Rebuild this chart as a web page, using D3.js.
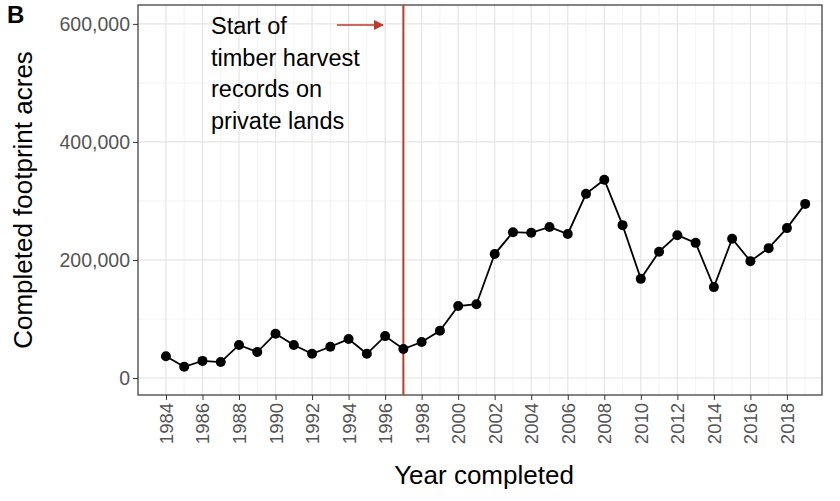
<!DOCTYPE html>
<html><head><meta charset="utf-8">
<script src="https://cdn.jsdelivr.net/npm/d3@7"></script>
<style>body{margin:0;background:#fff}</style></head>
<body><svg id="c" width="840" height="501"></svg>
<script>
const years = d3.range(1984, 2020);
const acres = [37000,19000,29000,27000,56000,44000,75000,56000,41000,53000,66000,41000,71000,49000,61000,80000,122000,125000,210000,247000,246000,256000,244000,312000,336000,259000,168000,214000,242000,229000,154000,236000,198000,220000,254000,295000];
const yTicks = [0,200000,400000,600000];
const xTicks = d3.range(1984, 2020, 2);
const noteLines = ["Start of","timber harvest","records on","private lands"];
const markerYear = 1997;

const svg = d3.select("#c");
const L=138,R=822,T=5,B=395;
const x = d3.scaleLinear().domain([1982.47,2019.92]).range([L,R]);
const y = d3.scaleLinear().domain([-28800,632000]).range([B,T]);
const font="Liberation Sans, Arial, sans-serif";

const g = svg.append("g");
d3.range(1985,2020,2).forEach(v=>g.append("line").attr("x1",x(v)).attr("x2",x(v)).attr("y1",T).attr("y2",B).attr("stroke","#f0f0f0").attr("stroke-width",0.8));
[100000,300000,500000].forEach(v=>g.append("line").attr("x1",L).attr("x2",R).attr("y1",y(v)).attr("y2",y(v)).attr("stroke","#f0f0f0").attr("stroke-width",0.8));
xTicks.forEach(v=>g.append("line").attr("x1",x(v)).attr("x2",x(v)).attr("y1",T).attr("y2",B).attr("stroke","#e4e4e4").attr("stroke-width",1.2));
yTicks.forEach(v=>g.append("line").attr("x1",L).attr("x2",R).attr("y1",y(v)).attr("y2",y(v)).attr("stroke","#e4e4e4").attr("stroke-width",1.2));

const xa = svg.append("g").attr("transform",`translate(0,${B})`).call(d3.axisBottom(x).tickValues(xTicks).tickFormat(d3.format("d")).tickSizeOuter(0).tickSize(5));
xa.select(".domain").remove();
xa.selectAll("line").attr("stroke","#333");
xa.selectAll("text").attr("font-family",font).attr("font-size",18.5).attr("fill","#555")
  .attr("transform","rotate(-90)").attr("text-anchor","end").attr("x",-8).attr("y",0).attr("dy","0.35em");
const ya = svg.append("g").attr("transform",`translate(${L},0)`).call(d3.axisLeft(y).tickValues(yTicks).tickFormat(d3.format(",")).tickSizeOuter(0).tickSize(5));
ya.select(".domain").remove();
ya.selectAll("line").attr("stroke","#333");
ya.selectAll("text").attr("font-family",font).attr("font-size",19.5).attr("fill","#555");

svg.append("rect").attr("x",L).attr("y",T).attr("width",R-L).attr("height",B-T).attr("fill","none").attr("stroke","#333").attr("stroke-width",1.2);

svg.append("line").attr("x1",x(markerYear)).attr("x2",x(markerYear)).attr("y1",T).attr("y2",B).attr("stroke","#c0392b").attr("stroke-width",2);

svg.append("path").datum(years.map((d,i)=>[d,acres[i]])).attr("fill","none").attr("stroke","#000").attr("stroke-width",1.8)
  .attr("d",d3.line().x(d=>x(d[0])).y(d=>y(d[1])));
svg.selectAll("circle.p").data(years).join("circle").attr("cx",d=>x(d)).attr("cy",(d,i)=>y(acres[i])).attr("r",5).attr("fill","#000");

const tx = svg.append("text").attr("font-family",font).attr("font-size",23.5).attr("fill","#000");
noteLines.forEach((t,i)=>tx.append("tspan").attr("x",211).attr("y",34+i*31.5).text(t));
svg.append("defs").append("marker").attr("id","ah").attr("viewBox","0 0 10 10").attr("refX",9).attr("refY",5).attr("markerWidth",7).attr("markerHeight",7).attr("orient","auto")
  .append("path").attr("d","M0,0L10,5L0,10z").attr("fill","#c0392b");
svg.append("line").attr("x1",337).attr("x2",383).attr("y1",25).attr("y2",25).attr("stroke","#c0392b").attr("stroke-width",1.5).attr("marker-end","url(#ah)");

svg.append("text").attr("x",7).attr("y",23).attr("font-family",font).attr("font-size",24).attr("font-weight","bold").text("B");
svg.append("text").attr("transform",`translate(32,${(T+B)/2}) rotate(-90)`).attr("text-anchor","middle").attr("font-family",font).attr("font-size",26).text("Completed footprint acres");
svg.append("text").attr("x",(L+R)/2+4).attr("y",484).attr("text-anchor","middle").attr("font-family",font).attr("font-size",26).text("Year completed");
</script></body></html>
